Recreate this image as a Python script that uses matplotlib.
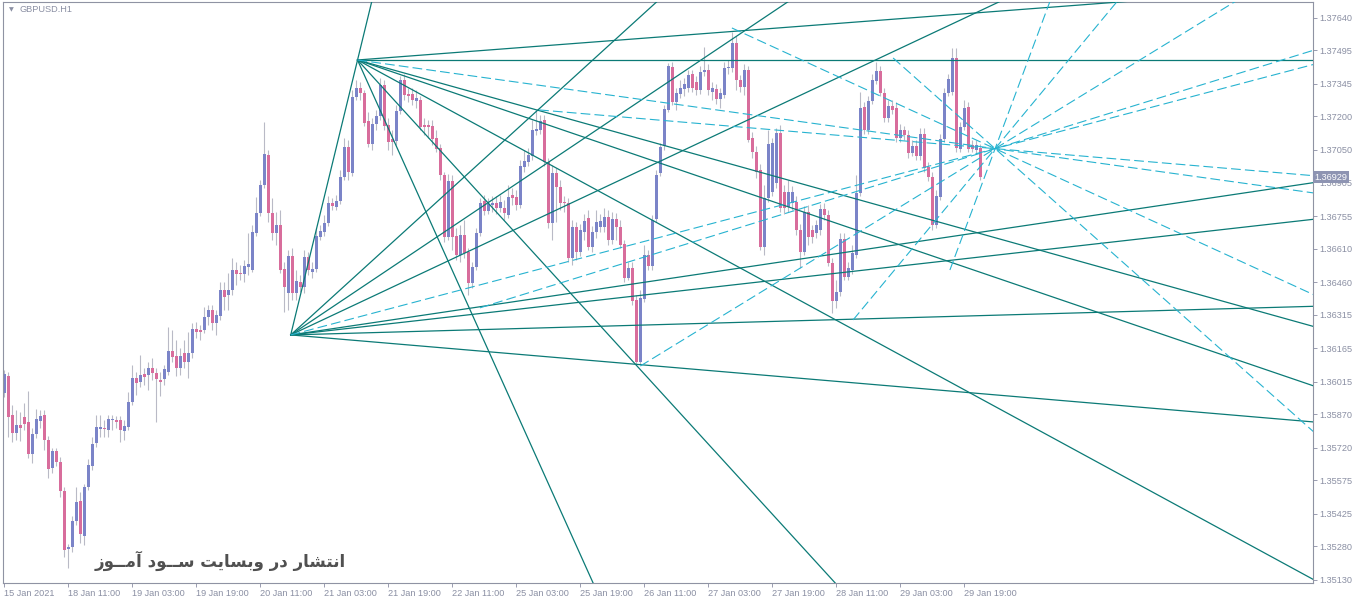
import numpy as np
import matplotlib
matplotlib.use("Agg")
import matplotlib.pyplot as plt
from matplotlib.transforms import blended_transform_factory

# GBPUSD H1 candles, prices in points (1e-5), bar 0 = 15 Jan 19:00
open_pts = [
    135965, 136041, 135867, 135787, 135822, 135858, 135835, 135692, 135782, 135840,
    135867, 135755, 135630, 135706, 135657, 135528, 135268, 135277, 135394, 135483,
    135326, 135545, 135639, 135742, 135804, 135808, 135800, 135844, 135844, 135844,
    135796, 135813, 135925, 136032, 136014, 136050, 136046, 136077, 136055, 136023,
    136028, 136059, 136153, 136130, 136077, 136144, 136103, 136144, 136251, 136246,
    136246, 136305, 136336, 136278, 136309, 136425, 136403, 136425, 136514, 136501,
    136496, 136528, 136514, 136680, 136769, 136894, 137028, 136769, 136680, 136716,
    136519, 136412, 136577, 136412, 136461, 136438, 136572, 136505, 136519, 136662,
    136684, 136724, 136814, 136796, 136822, 136930, 137063, 136947, 137287, 137327,
    137305, 137180, 137077, 137166, 137202, 137340, 137162, 137099, 137090, 137224,
    137363, 137300, 137300, 137269, 137273, 137162, 137162, 137157, 137104, 137059,
    136938, 136662, 136912, 136666, 136581, 136671, 136595, 136456, 136528, 136680,
    136822, 136778, 136805, 136814, 136791, 136791, 136760, 136849, 136840, 136805,
    136974, 136996, 137023, 137135, 137139, 137184, 136996, 136724, 136947, 136885,
    136818, 136814, 136568, 136707, 136595, 136684, 136747, 136617, 136684, 136707,
    136707, 136751, 136648, 136742, 136707, 136630, 136479, 136523, 136380, 136103,
    136385, 136581, 136532, 136742, 136947, 137068, 137229, 137421, 137264, 137300,
    137323, 137327, 137389, 137354, 137318, 137398, 137407, 137309, 137323, 137278,
    137296, 137416, 137416, 137528, 137363, 137331, 137407, 137104, 137041, 136961,
    136617, 136836, 136862, 136902, 137126, 136862, 136796, 136814, 136818, 136693,
    136595, 136773, 136693, 136680, 136693, 136787, 136760, 136546, 136376, 136416,
    136653, 136483, 136514, 136581, 136858, 137242, 137139, 137269, 137358, 137403,
    137305, 137193, 137247, 137238, 137104, 137139, 137117, 137037, 137068, 137023,
    137122, 136974, 136930, 136716, 136840, 137099, 137305, 137309, 137461, 137055,
    137153, 137242, 137072, 137050, 137059,
]
high_pts = [
    136068, 136059, 135912, 135889, 135880, 135921, 135974, 135808, 135894, 135889,
    135889, 135773, 135719, 135719, 135679, 135545, 135290, 135415, 135545, 135523,
    135558, 135670, 135769, 135867, 135867, 135844, 135867, 135867, 135862, 135862,
    135844, 135969, 136090, 136059, 136135, 136077, 136103, 136121, 136077, 136059,
    136090, 136260, 136246, 136202, 136166, 136202, 136237, 136278, 136282, 136269,
    136349, 136358, 136358, 136336, 136461, 136461, 136501, 136568, 136550, 136537,
    136559, 136680, 136716, 136840, 136916, 137175, 137050, 136836, 136773, 136782,
    136550, 136604, 136613, 136514, 136492, 136604, 136595, 136550, 136702, 136716,
    136760, 136845, 136836, 136849, 136961, 137104, 137095, 137318, 137363, 137354,
    137318, 137220, 137193, 137229, 137372, 137363, 137193, 137139, 137251, 137381,
    137389, 137327, 137327, 137318, 137291, 137193, 137184, 137184, 137139, 137077,
    136952, 136943, 136938, 136702, 136716, 136738, 136613, 136550, 136702, 136836,
    136849, 136836, 136845, 136845, 136849, 136827, 136894, 136880, 136871, 137005,
    137050, 137059, 137184, 137229, 137206, 137206, 137014, 136983, 136970, 136916,
    136845, 136836, 136738, 136729, 136720, 136764, 136782, 136711, 136782, 136764,
    136791, 136782, 136773, 136769, 136738, 136648, 136550, 136550, 136403, 136425,
    136626, 136604, 136760, 136961, 137081, 137251, 137439, 137443, 137327, 137363,
    137372, 137407, 137407, 137381, 137425, 137510, 137434, 137354, 137345, 137327,
    137443, 137452, 137577, 137559, 137385, 137434, 137425, 137130, 137068, 136987,
    136894, 137139, 137104, 137148, 137162, 136894, 136916, 136889, 136845, 136720,
    136800, 136805, 136716, 136738, 136809, 136814, 136782, 136568, 136470, 136680,
    136680, 136550, 136626, 136938, 137309, 137264, 137291, 137389, 137443, 137425,
    137327, 137273, 137273, 137264, 137166, 137157, 137139, 137095, 137095, 137148,
    137148, 136996, 136952, 136871, 137122, 137327, 137389, 137506, 137506, 137175,
    137273, 137264, 137095, 137095, 137077,
]
low_pts = [
    135947, 135769, 135746, 135755, 135751, 135800, 135674, 135653, 135764, 135808,
    135710, 135585, 135608, 135639, 135501, 135233, 135183, 135255, 135376, 135295,
    135286, 135532, 135621, 135724, 135769, 135769, 135769, 135800, 135808, 135746,
    135755, 135800, 135912, 135956, 135992, 136001, 135978, 136023, 135835, 135951,
    136001, 136046, 136103, 136041, 136046, 136077, 136032, 136121, 136210, 136202,
    136233, 136269, 136246, 136224, 136291, 136336, 136336, 136403, 136448, 136470,
    136461, 136492, 136505, 136666, 136755, 136880, 136729, 136648, 136626, 136501,
    136327, 136336, 136380, 136380, 136416, 136412, 136492, 136479, 136505, 136648,
    136666, 136711, 136782, 136782, 136809, 136916, 136916, 136934, 137273, 137273,
    137157, 137063, 137050, 137139, 137184, 137139, 137050, 137028, 137072, 137211,
    137273, 137264, 137251, 137238, 137139, 137117, 137104, 137072, 137041, 136916,
    136639, 136648, 136604, 136559, 136550, 136568, 136403, 136434, 136514, 136666,
    136760, 136764, 136773, 136764, 136773, 136738, 136747, 136805, 136782, 136791,
    136952, 136979, 137005, 137117, 137122, 136979, 136702, 136648, 136729, 136782,
    136773, 136550, 136537, 136559, 136577, 136648, 136604, 136595, 136657, 136684,
    136684, 136626, 136630, 136648, 136613, 136461, 136470, 136358, 136090, 136094,
    136371, 136514, 136514, 136729, 136934, 137050, 137220, 137251, 137229, 137282,
    137291, 137309, 137309, 137296, 137300, 137381, 137296, 137273, 137256, 137238,
    137282, 137389, 137398, 137318, 137309, 137296, 137086, 137014, 136925, 136604,
    136581, 136818, 136845, 136880, 136773, 136764, 136773, 136782, 136671, 136523,
    136581, 136626, 136635, 136657, 136671, 136738, 136532, 136322, 136345, 136398,
    136470, 136470, 136496, 136568, 136845, 137122, 137122, 137256, 137345, 137291,
    137175, 137175, 137211, 137086, 137086, 137095, 137014, 137023, 137005, 137005,
    136952, 136912, 136693, 136702, 136827, 137086, 137291, 137296, 137041, 137041,
    137139, 137041, 137041, 137032, 136916,
]
close_pts = [
    136050, 135858, 135787, 135822, 135808, 135826, 135692, 135782, 135849, 135862,
    135755, 135626, 135706, 135657, 135528, 135264, 135277, 135394, 135478, 135335,
    135545, 135644, 135737, 135813, 135813, 135804, 135849, 135849, 135835, 135800,
    135817, 135925, 136032, 136010, 136046, 136037, 136077, 136055, 136028, 136014,
    136072, 136153, 136126, 136077, 136130, 136103, 136144, 136251, 136237, 136237,
    136305, 136336, 136278, 136314, 136425, 136394, 136425, 136514, 136496, 136496,
    136532, 136541, 136684, 136769, 136894, 137032, 136769, 136680, 136716, 136514,
    136438, 136577, 136412, 136465, 136438, 136572, 136514, 136519, 136666, 136689,
    136724, 136814, 136800, 136822, 136930, 137063, 136952, 137287, 137327, 137305,
    137171, 137077, 137166, 137202, 137340, 137157, 137086, 137086, 137224, 137363,
    137296, 137291, 137273, 137282, 137153, 137153, 137153, 137099, 137055, 136938,
    136662, 136912, 136662, 136581, 136671, 136590, 136456, 136528, 136680, 136814,
    136778, 136809, 136814, 136791, 136818, 136769, 136840, 136836, 136805, 136979,
    137001, 137028, 137139, 137144, 137180, 136996, 136724, 136947, 136885, 136814,
    136814, 136568, 136707, 136595, 136693, 136733, 136617, 136684, 136729, 136733,
    136751, 136648, 136742, 136707, 136626, 136479, 136523, 136376, 136103, 136389,
    136581, 136532, 136738, 136938, 137063, 137233, 137425, 137264, 137305, 137327,
    137345, 137385, 137327, 137318, 137398, 137407, 137318, 137327, 137278, 137305,
    137416, 137421, 137528, 137363, 137331, 137407, 137095, 137041, 136952, 136617,
    136836, 137077, 137081, 137126, 136791, 136791, 136862, 136862, 136693, 136595,
    136773, 136662, 136662, 136716, 136787, 136760, 136546, 136376, 136416, 136653,
    136483, 136523, 136590, 136858, 137238, 137139, 137269, 137363, 137403, 137305,
    137193, 137247, 137229, 137104, 137139, 137117, 137037, 137068, 137023, 137122,
    136970, 136930, 136716, 136845, 137099, 137305, 137367, 137461, 137059, 137153,
    137238, 137055, 137055, 137072, 136929,
]

price_ticks = [1.37640, 1.37495, 1.37345, 1.37200, 1.37050, 1.36905, 1.36755, 1.36610, 1.36460,
               1.36315, 1.36165, 1.36015, 1.35870, 1.35720, 1.35575, 1.35425, 1.35280, 1.35130]
time_tick_bars = [0, 16, 32, 48, 64, 80, 96, 112, 128, 144, 160, 176, 192, 208, 224, 240]
time_tick_labels = ["15 Jan 2021", "18 Jan 11:00", "19 Jan 03:00", "19 Jan 19:00", "20 Jan 11:00",
                    "21 Jan 03:00", "21 Jan 19:00", "22 Jan 11:00", "25 Jan 03:00", "25 Jan 19:00",
                    "26 Jan 11:00", "27 Jan 03:00", "27 Jan 19:00", "28 Jan 11:00", "29 Jan 03:00",
                    "29 Jan 19:00"]

# Gann fans (solid): origin (bar, price) and slopes in pips per bar
fan_a_origin = (88.3, 1.37452)
fan_a_slopes = [0.136, 0.0, -0.498, -0.609, -0.971, -1.956, -3.966]
fan_b_origin = (71.6, 1.36224)
fan_b_slopes = [7.35, 1.626, 1.197, 0.840, 0.266, 0.202, 0.050, -0.152]

# dashed rays, each from its own origin through a common pivot
pivot_bar, pivot_price = 247.7, 1.37056
ray_origin_bars = [88.3, 71.6, 159.0, 212.2, 181.9, 133.7, 222.2, 118.9, 236.4]
ray_origin_prices = [1.37452, 1.36224, 1.36085, 1.36291, 1.37595, 1.37229, 1.37461, 1.36345, 1.36514]

last_price = 1.36929
symbol = "GBPUSD.H1"
watermark = "انتشار در وبسایت ســود آمــوز"

# presentation forms: isolated, final, initial, medial
FORMS = {
    'ا': ('\uFE8D', '\uFE8E', None, None),
    'آ': ('\uFE81', '\uFE82', None, None),
    'د': ('\uFEA9', '\uFEAA', None, None),
    'ر': ('\uFEAD', '\uFEAE', None, None),
    'ز': ('\uFEAF', '\uFEB0', None, None),
    'و': ('\uFEED', '\uFEEE', None, None),
    'ب': ('\uFE8F', '\uFE90', '\uFE91', '\uFE92'),
    'ت': ('\uFE95', '\uFE96', '\uFE97', '\uFE98'),
    'س': ('\uFEB1', '\uFEB2', '\uFEB3', '\uFEB4'),
    'ش': ('\uFEB5', '\uFEB6', '\uFEB7', '\uFEB8'),
    'م': ('\uFEE1', '\uFEE2', '\uFEE3', '\uFEE4'),
    'ن': ('\uFEE5', '\uFEE6', '\uFEE7', '\uFEE8'),
    'ی': ('\uFEF1', '\uFEF2', '\uFEF3', '\uFEF4'),
    'ـ': ('\u0640', '\u0640', '\u0640', '\u0640'),
}


def shape_persian(text):
    """Join letters and put them in visual (left-to-right) order."""
    def dual(ch):
        f = FORMS.get(ch)
        return f is not None and f[2] is not None

    out = []
    for i, ch in enumerate(text):
        if ch not in FORMS:
            out.append(ch)
            continue
        prev = text[i - 1] if i > 0 else ' '
        nxt = text[i + 1] if i + 1 < len(text) else ' '
        join_prev = dual(prev)
        join_next = dual(ch) and nxt in FORMS
        iso, fin, ini, med = FORMS[ch]
        if join_prev and join_next:
            out.append(med)
        elif join_prev:
            out.append(fin)
        elif join_next:
            out.append(ini)
        else:
            out.append(iso)
    return ''.join(reversed(out))


plt.rcParams['font.family'] = ['Liberation Sans', 'DejaVu Sans']
plt.rcParams['lines.scale_dashes'] = False

o = np.array(open_pts) / 1e5
h = np.array(high_pts) / 1e5
l = np.array(low_pts) / 1e5
c = np.array(close_pts) / 1e5
bars = np.arange(len(o))

W, H = 1358, 599
fig = plt.figure(figsize=(W / 100, H / 100), dpi=100)
ax = fig.add_axes([3 / W, 16 / H, 1309.7 / W, 581 / H])

bull_col, bear_col, wick_col = '#7b84c8', '#d86d9c', '#b9bac6'
solid_col, dash_col = '#0b7a76', '#27b3d0'
text_col = '#8a8fa3'

# candles
ax.vlines(bars, l, h, color=wick_col, lw=0.8, zorder=1)
up = c >= o
body_lo = np.minimum(o, c)
body_h = np.maximum(np.abs(c - o), 0.00005)
ax.bar(bars[up], body_h[up], bottom=body_lo[up], width=0.75, color=bull_col, lw=0, zorder=2)
ax.bar(bars[~up], body_h[~up], bottom=body_lo[~up], width=0.75, color=bear_col, lw=0, zorder=2)

far = 400.0
# solid Gann fans
for (b0, p0), slopes in ((fan_a_origin, fan_a_slopes), (fan_b_origin, fan_b_slopes)):
    for s in slopes:
        ax.plot([b0, far], [p0, p0 + s * 1e-4 * (far - b0)], color=solid_col, lw=0.9, zorder=3)

# dashed rays through the pivot
for b0, p0 in zip(ray_origin_bars, ray_origin_prices):
    k = (pivot_price - p0) / (pivot_bar - b0)
    ax.plot([b0, far], [p0, p0 + k * (far - b0)], color=dash_col, lw=0.8,
            dashes=(7, 3), zorder=3)

ax.set_xlim(-0.33, 327.1)
ax.set_ylim(1.35116, 1.37711)

for sp in ax.spines.values():
    sp.set_color('#8f93a3')
    sp.set_linewidth(0.8)

ax.yaxis.tick_right()
ax.set_yticks(price_ticks)
ax.set_yticklabels([f"{v:.5f}" for v in price_ticks])
ax.tick_params(axis='y', direction='out', length=3, width=0.7, color='#9a9cb0',
               labelsize=6.6, labelcolor=text_col, pad=2)

ax.set_xticks(time_tick_bars)
ax.set_xticklabels(time_tick_labels)
ax.tick_params(axis='x', direction='out', length=3, width=0.7, color='#9a9cb0',
               labelsize=6.6, labelcolor=text_col, pad=1.5)
for lbl in ax.get_xticklabels():
    lbl.set_ha('left')

# current price marker on the price scale
trans = blended_transform_factory(ax.transAxes, ax.transData)
ax.text(1.0015, last_price, f"{last_price:.5f}", transform=trans, ha='left', va='center',
        fontsize=6.6, color='white', clip_on=False, zorder=10,
        bbox=dict(boxstyle='square,pad=0.18', fc='#8e94b2', ec='none'))

# symbol caption
fig.text(9 / W, 1 - 10 / H, '\u25BC', fontsize=4.5, color=text_col, va='center', ha='left',
         family='DejaVu Sans')
fig.text(20 / W, 1 - 10 / H, symbol, fontsize=6.6, color=text_col, va='center', ha='left')

# watermark
fig.text(95 / W, 1 - 561 / H, shape_persian(watermark), fontsize=12, fontweight='bold',
         color='#505050', ha='left', va='center', family='DejaVu Sans')

fig.savefig('out.png', dpi=100)
